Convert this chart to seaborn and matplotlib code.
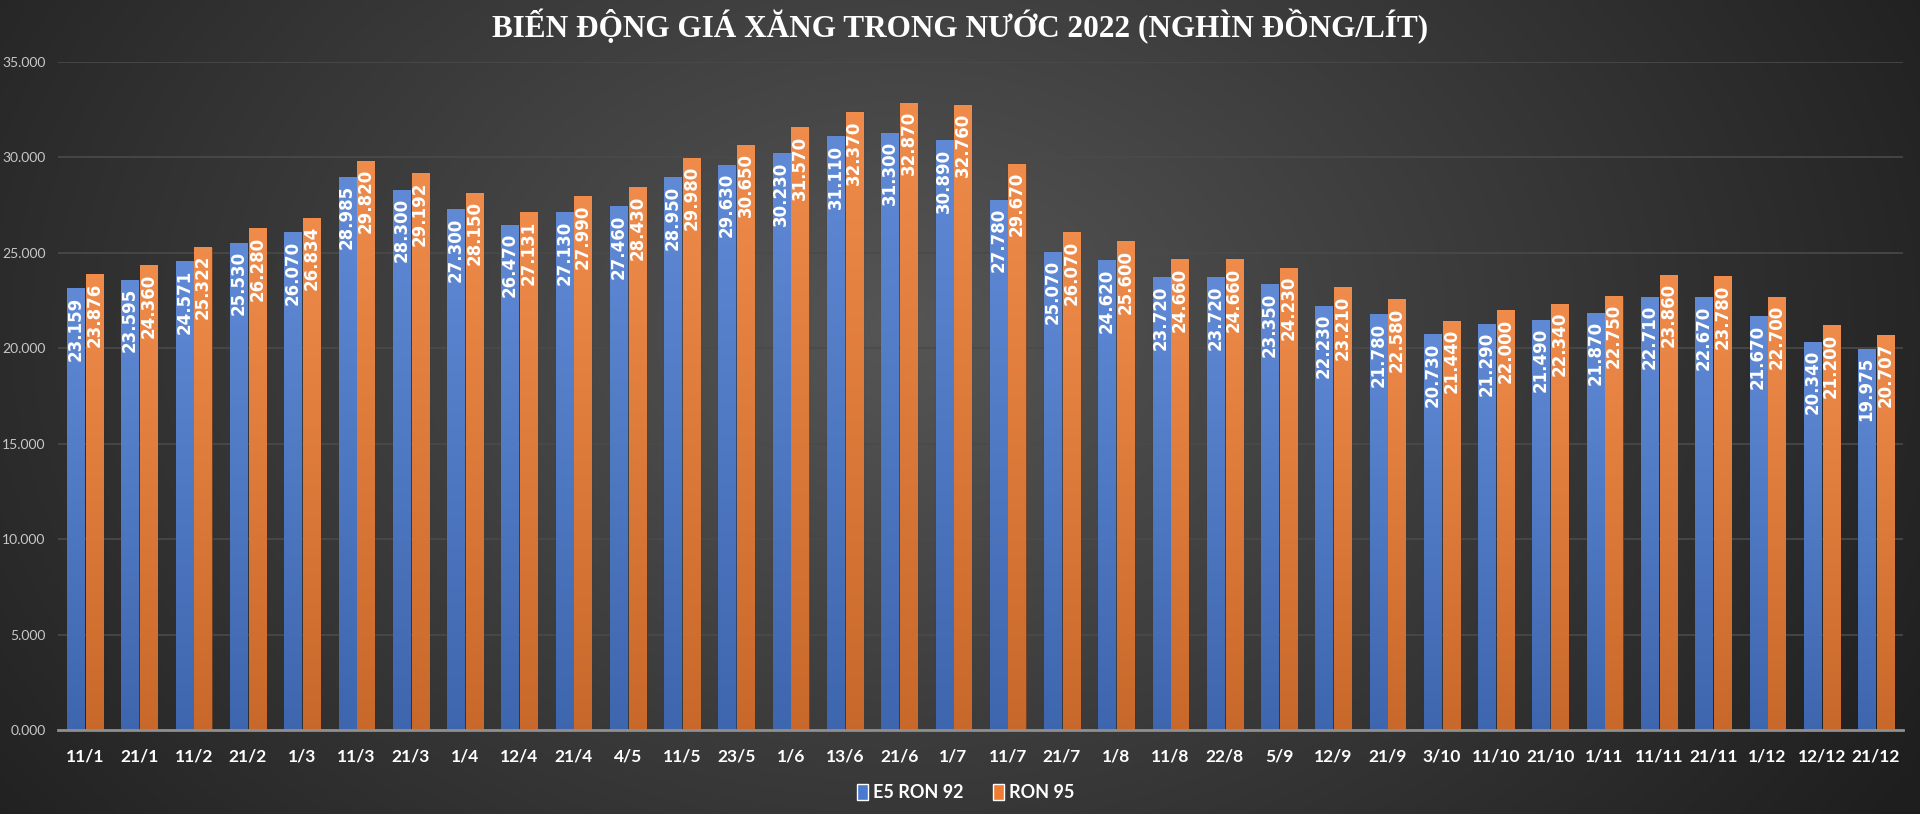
import numpy as np
import pandas as pd
import seaborn as sns
import matplotlib.pyplot as plt
import matplotlib.colors as mcolors
from matplotlib.ticker import FuncFormatter, MultipleLocator

# ---- data (VND per litre) ----
dates = ["11/1", "21/1", "11/2", "21/2", "1/3", "11/3", "21/3", "1/4", "12/4", "21/4",
         "4/5", "11/5", "23/5", "1/6", "13/6", "21/6", "1/7", "11/7", "21/7", "1/8",
         "11/8", "22/8", "5/9", "12/9", "21/9", "3/10", "11/10", "21/10", "1/11", "11/11",
         "21/11", "1/12", "12/12", "21/12"]
e5_ron92 = [23159, 23595, 24571, 25530, 26070, 28985, 28300, 27300, 26470, 27130,
            27460, 28950, 29630, 30230, 31110, 31300, 30890, 27780, 25070, 24620,
            23720, 23720, 23350, 22230, 21780, 20730, 21290, 21490, 21870, 22710,
            22670, 21670, 20340, 19975]
ron95 = [23876, 24360, 25322, 26280, 26834, 29820, 29192, 28150, 27131, 27990,
         28430, 29980, 30650, 31570, 32370, 32870, 32760, 29670, 26070, 25600,
         24660, 24660, 24230, 23210, 22580, 21440, 22000, 22340, 22750, 23860,
         23780, 22700, 21200, 20707]
series_names = ["E5 RON 92", "RON 95"]
title = "BIẾN ĐỘNG GIÁ XĂNG TRONG NƯỚC 2022 (NGHÌN ĐỒNG/LÍT)"

df = pd.DataFrame({
    "date": dates * 2,
    "price": e5_ron92 + ron95,
    "series": [series_names[0]] * len(dates) + [series_names[1]] * len(dates),
})

BLUE = "#4A7AD0"
ORANGE = "#EE7C32"


def vn_fmt(v):
    # 23159 -> "23.159", 0 -> "0.000"
    return f"{v / 1000:.3f}"


sns.set_style("dark")
plt.rcParams["font.family"] = ["Lato", "DejaVu Sans"]

fig = plt.figure(figsize=(19.2, 8.14), dpi=100)

# dark radial background
bg = fig.add_axes([0, 0, 1, 1], zorder=-10)
yy, xx = np.mgrid[0:814, 0:1920]
r = np.sqrt(((xx - 900) / 1150.0) ** 2 + ((yy - 330) / 850.0) ** 2)
lum = np.clip(0.335 - 0.21 * r, 0.12, 0.34)
bg.imshow(np.dstack([lum, lum, lum]), aspect="auto", extent=[0, 1, 0, 1])
bg.axis("off")

ax = fig.add_axes([0.0302, 0.1032, 0.961, 0.8206])
ax.set_facecolor("none")

sns.barplot(data=df, x="date", y="price", hue="series", palette=[BLUE, ORANGE],
            width=0.69, gap=0.087, saturation=1, ax=ax, zorder=2)

# vertical gradient on each bar (lighter top, darker bottom)
for bar in list(ax.patches):
    h = bar.get_height()
    if not np.isfinite(h) or h <= 0:
        continue
    x0, w = bar.get_x(), bar.get_width()
    rgb = np.array(mcolors.to_rgb(bar.get_facecolor()))
    top = rgb + (1 - rgb) * 0.12
    bot = rgb * 0.84
    t = np.linspace(0, 1, 128)[:, None, None]
    img = top[None, None, :] * (1 - t) + bot[None, None, :] * t
    im = ax.imshow(img, extent=[x0, x0 + w, 0, h], aspect="auto", origin="upper", zorder=2.1)
    im.set_clip_path(bar)
    bar.set_edgecolor((0, 0, 0, 0.25))
    bar.set_linewidth(0.8)

# data labels inside bars, rotated
for cont, vals in zip(ax.containers, [e5_ron92, ron95]):
    anns = ax.bar_label(cont, labels=[vn_fmt(v) for v in vals], padding=-6,
                        rotation=90, color="white", fontsize=12, fontweight="bold",
                        family=["DejaVu Sans"])
    for a in anns:
        a.set_va("top")
        a.set_zorder(5)

ax.set_xlim(-0.5, len(dates) - 0.5)
ax.set_ylim(0, 35000)
ax.yaxis.set_major_locator(MultipleLocator(5000))
ax.yaxis.set_major_formatter(FuncFormatter(lambda v, p: vn_fmt(v)))
ax.set_xlabel("")
ax.set_ylabel("")
ax.grid(axis="y", color="#4a4a4a", linewidth=1.2)
ax.grid(axis="x", visible=False)
ax.set_axisbelow(True)
for s in ["top", "right", "left"]:
    ax.spines[s].set_visible(False)
ax.spines["bottom"].set_color("#8f8f8f")
ax.spines["bottom"].set_linewidth(2)
ax.spines["bottom"].set_zorder(6)
ax.tick_params(axis="y", colors="#c8c8c8", labelsize=10, length=0, pad=9)
ax.tick_params(axis="x", colors="white", labelsize=12.5, length=0, pad=13)
for lbl in ax.get_xticklabels():
    lbl.set_fontweight("bold")

handles, labels = ax.get_legend_handles_labels()
ax.get_legend().remove()
leg = fig.legend(handles, labels, loc="center", bbox_to_anchor=(0.503, 0.026), ncol=2,
                 frameon=False, handlelength=0.6, handleheight=1.0, handletextpad=0.3,
                 columnspacing=1.6, prop={"family": ["Lato", "DejaVu Sans"],
                                          "weight": "bold", "size": 13})
for txt in leg.get_texts():
    txt.set_color("white")

fig.text(0.5, 0.967, title, ha="center", va="center", color="white",
         fontsize=22.5, fontweight="bold", family=["Liberation Serif", "DejaVu Serif"])

fig.savefig("out.png", dpi=100)
